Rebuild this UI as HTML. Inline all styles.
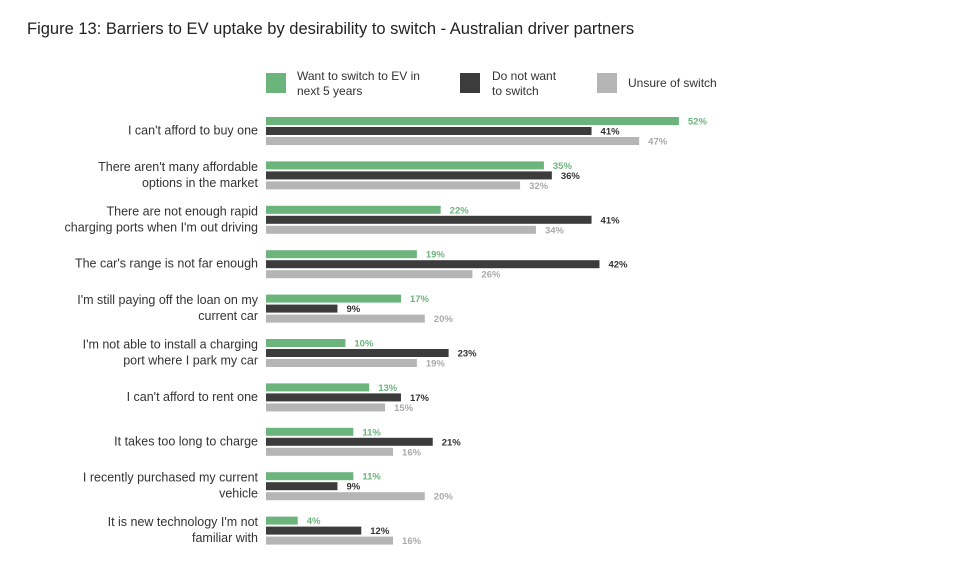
<!DOCTYPE html>
<html><head><meta charset="utf-8"><style>
body{margin:0;background:#fff;font-family:"Liberation Sans",sans-serif;}
#wrap{position:relative;width:960px;height:588px;overflow:hidden;}
.title{position:absolute;left:27px;top:20px;font-size:16.5px;color:#222;}
.lg{position:absolute;font-size:12px;color:#333;line-height:15px;}
.sw{position:absolute;width:20px;height:20px;}
</style></head><body>
<div id="wrap">
<div class="title">Figure 13: Barriers to EV uptake by desirability to switch - Australian driver partners</div>
<div class="sw" style="left:266px;top:73px;background:#6bb47b"></div>
<div class="lg" style="left:297px;top:69px">Want to switch to EV in<br>next 5 years</div>
<div class="sw" style="left:460px;top:73px;background:#3c3c3c"></div>
<div class="lg" style="left:492px;top:69px">Do not want<br>to switch</div>
<div class="sw" style="left:597px;top:73px;background:#b5b5b5"></div>
<div class="lg" style="left:628px;top:76px">Unsure of switch</div>
<svg id="chart" width="960" height="588" style="position:absolute;left:0;top:0"></svg>
</div>
<script>
const categories=[["I can't afford to buy one"],["There aren't many affordable","options in the market"],["There are not enough rapid","charging ports when I'm out driving"],["The car's range is not far enough"],["I'm still paying off the loan on my","current car"],["I'm not able to install a charging","port where I park my car"],["I can't afford to rent one"],["It takes too long to charge"],["I recently purchased my current","vehicle"],["It is new technology I'm not","familiar with"]];
const wantValues=[52,35,22,19,17,10,13,11,11,4];
const notValues=[41,36,41,42,9,23,17,21,9,12];
const unsureValues=[47,32,34,26,20,19,15,16,20,16];
const series=[{v:wantValues,c:"#6bb47b",t:"#6bb47b",n:"want"},{v:notValues,c:"#3c3c3c",t:"#333",n:"not"},{v:unsureValues,c:"#b5b5b5",t:"#aaa",n:"unsure"}];
const svg=document.getElementById('chart');const NS="http://www.w3.org/2000/svg";
const x0=266,k=7.94;const xs=v=>x0+v*k;
const gy=i=>117+i*44.4;
categories.forEach((lines,i)=>{
  const cy=gy(i)+13.5;
  const t=document.createElementNS(NS,'text');
  
  
  t.setAttribute('x',258);t.setAttribute('text-anchor','end');
  t.setAttribute('font-size','12.5');t.setAttribute('fill','#333');t.setAttribute('font-family','Liberation Sans, sans-serif');
  const start=cy-(lines.length-1)*8+4;
  lines.forEach((l,j)=>{const s=document.createElementNS(NS,'tspan');s.setAttribute('x',258);s.setAttribute('y',start+j*16);s.textContent=l;t.appendChild(s);});
  svg.appendChild(t);
  series.forEach((s,j)=>{
    const y=gy(i)+j*10,v=s.v[i];
    const r=document.createElementNS(NS,'rect');
    
    
    r.setAttribute('x',x0);r.setAttribute('y',y);r.setAttribute('width',xs(v)-x0);r.setAttribute('height',8);r.setAttribute('fill',s.c);
    svg.appendChild(r);
    const lb=document.createElementNS(NS,'text');
    
    
    lb.setAttribute('x',xs(v)+9);lb.setAttribute('y',y+7.5);lb.setAttribute('font-size','9.5');lb.setAttribute('font-weight','bold');lb.setAttribute('fill',s.t);lb.setAttribute('font-family','Liberation Sans, sans-serif');
    lb.textContent=v+'%';svg.appendChild(lb);
  });
});
</script>
</body></html>
